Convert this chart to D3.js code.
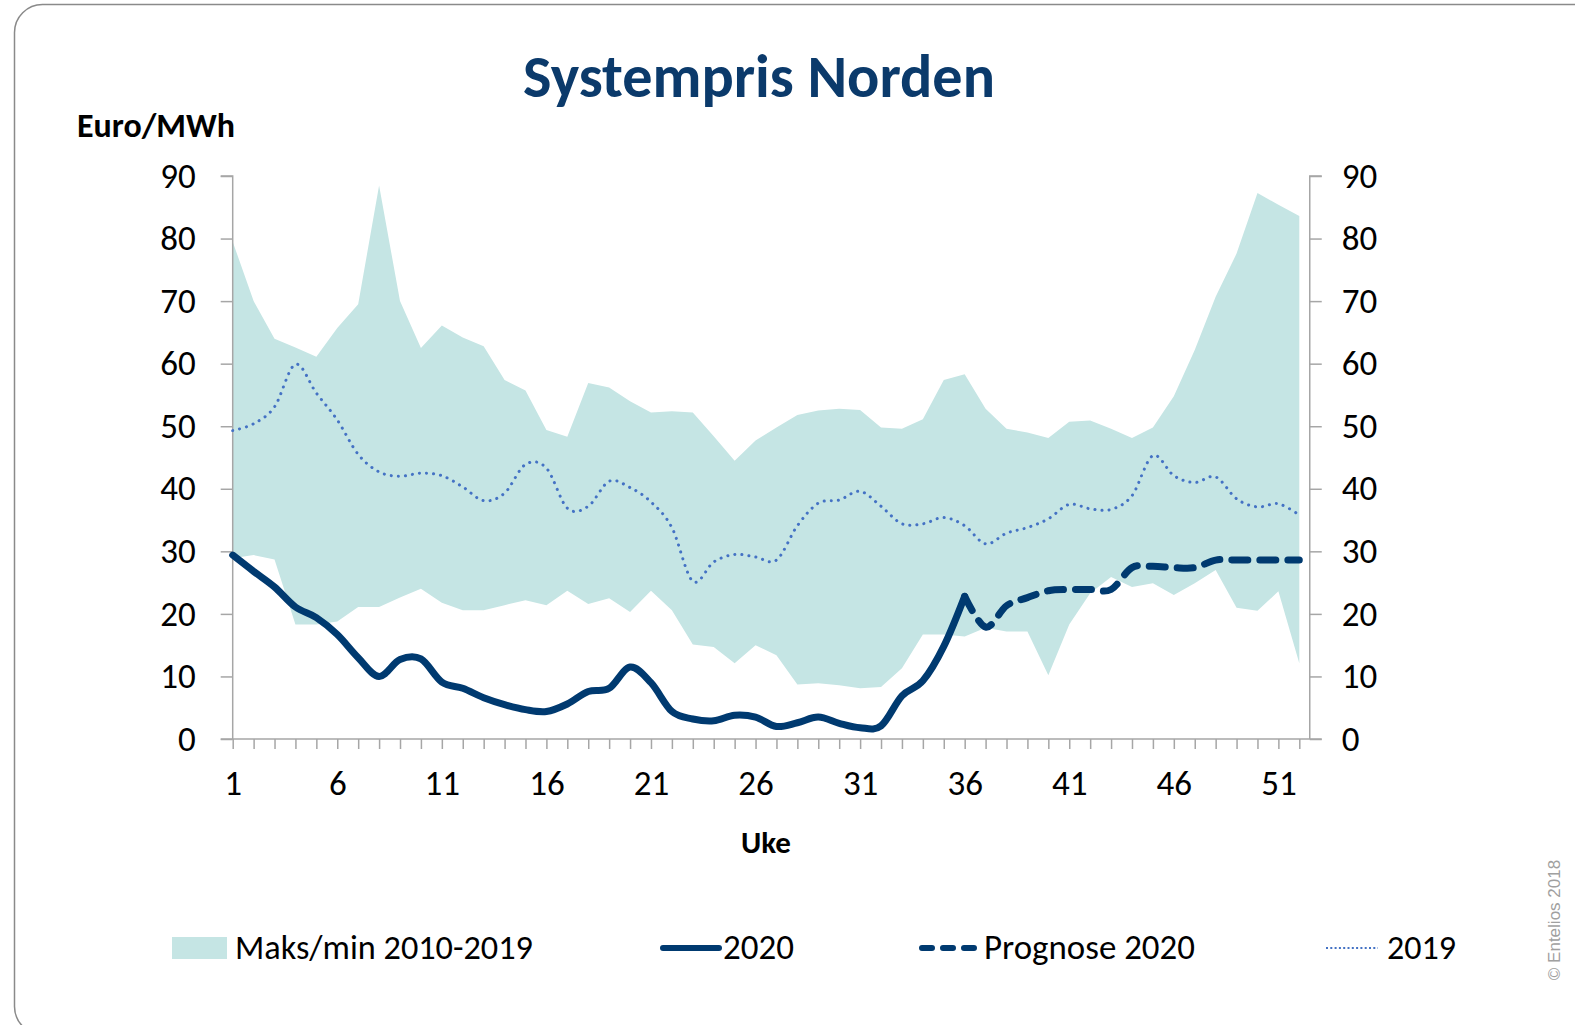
<!DOCTYPE html>
<html>
<head>
<meta charset="utf-8">
<script src="https://cdn.jsdelivr.net/npm/d3@7"></script>
<style>
  html, body { margin: 0; padding: 0; background: #fff; }
  svg { display: block; }
  text { font-family: Carlito, Lato, "Open Sans", sans-serif; }
</style>
</head>
<body>
<svg id="chart" width="1575" height="1025"></svg>
<script>
// ---- Data ----
const weeks = d3.range(1, 53);
const maxValues = [79.5,70.0,64.0,62.6,61.1,65.7,69.5,88.5,70.0,62.5,66.1,64.2,62.8,57.4,55.7,49.4,48.3,56.9,56.2,54.0,
  52.2,52.4,52.2,48.4,44.5,47.7,49.8,51.8,52.5,52.8,52.6,49.8,49.6,51.1,57.4,58.3,52.8,49.6,49.0,48.1,
  50.7,50.9,49.6,48.1,49.8,54.8,62.2,70.7,77.6,87.3,85.4,83.6];
const minValues = [28.9,29.4,28.7,18.3,18.3,18.8,21.1,21.1,22.6,24.0,21.8,20.6,20.6,21.4,22.2,21.4,23.7,21.6,22.5,20.3,
  23.7,20.6,15.1,14.7,12.1,15.0,13.4,8.7,8.9,8.6,8.1,8.3,11.3,16.7,16.7,16.4,17.8,17.2,17.2,10.2,
  18.3,23.3,25.9,24.3,24.9,23.0,24.9,27.0,21.0,20.5,23.6,12.1];
const values2019 = [49.3,50.4,53.1,59.9,55.3,51.0,45.5,42.7,42.0,42.5,42.1,40.3,38.1,39.3,43.9,43.3,36.9,37.2,41.2,40.2,
  37.9,33.8,25.2,28.3,29.5,29.1,28.6,34.1,37.7,38.2,39.6,37.2,34.4,34.4,35.4,34.1,31.2,32.9,33.8,35.2,
  37.5,36.8,36.7,38.9,45.3,42.1,41.0,41.9,38.4,37.1,37.6,35.8];
const weeks2020 = d3.range(1, 37);
const values2020 = [29.4,26.8,24.3,21.1,19.4,16.7,13.0,10.0,12.7,12.8,9.1,8.1,6.6,5.5,4.7,4.4,5.6,7.6,8.1,11.5,
  9.0,4.4,3.2,2.9,3.8,3.5,2.0,2.6,3.5,2.5,1.8,2.1,6.9,9.3,14.8,22.8];
const weeksPrognose = d3.range(36, 53);
const valuesPrognose = [22.8,17.9,21.3,22.6,23.7,23.9,23.9,23.9,27.4,27.6,27.4,27.4,28.6,28.6,28.6,28.6,28.6];
const yTicks = [0,10,20,30,40,50,60,70,80,90];
const xLabelWeeks = [1,6,11,16,21,26,31,36,41,46,51];
const legendLabels = ["Maks/min 2010-2019", "2020", "Prognose 2020", "2019"];
const titleText = "Systempris Norden";
const yAxisTitle = "Euro/MWh";
const xAxisTitle = "Uke";
const copyright = "© Entelios 2018";

// ---- Styles ----
const bandColor = "#C5E5E4";
const navy = "#003A70";
const dotBlue = "#4472C4";
const axisGray = "#A6A6A6";

const svg = d3.select("#chart");

// frame
svg.append("rect").attr("x", 14.5).attr("y", 4.5).attr("width", 1600).attr("height", 1030)
  .attr("rx", 28).attr("fill", "none").attr("stroke", "#8a8a8a").attr("stroke-width", 1.5);

const x = d3.scaleLinear().domain([1, 52]).range([232.7, 1299.3]);
const y = d3.scaleLinear().domain([0, 90]).range([739, 176]);

function fitWidth(sel, target) {
  const w = sel.node().getComputedTextLength();
  const fs = parseFloat(sel.attr("font-size"));
  sel.attr("font-size", fs * target / w);
}

// band
const area = d3.area().x((d, i) => x(weeks[i])).y0((d, i) => y(minValues[i])).y1(d => y(d));
svg.append("path").datum(maxValues).attr("d", area).attr("fill", bandColor);

// axes
const gLeft = svg.append("g").attr("transform", `translate(${x(1)},0)`)
  .call(d3.axisLeft(y).tickValues(yTicks).tickSize(12).tickPadding(25));
const gRight = svg.append("g").attr("transform", `translate(${x(52.5)},0)`)
  .call(d3.axisRight(y).tickValues(yTicks).tickSize(12).tickPadding(20));
const gBottom = svg.append("g").attr("transform", `translate(0,${y(0)})`)
  .call(d3.axisBottom(x).tickValues(weeks).tickSize(10).tickPadding(22)
    .tickFormat(d => xLabelWeeks.includes(d) ? d : ""));
[gLeft, gRight, gBottom].forEach(g => {
  g.select(".domain").attr("stroke", axisGray).attr("stroke-width", 1.5);
  g.selectAll(".tick line").attr("stroke", axisGray).attr("stroke-width", 1.5);
  g.selectAll(".tick text").attr("fill", "#000").attr("font-size", 35)
    .style("font-family", "Carlito, Lato, sans-serif");
});
gLeft.select(".domain").attr("d", `M-12,${y(90)}H0V${y(0)}`);
gRight.select(".domain").attr("d", `M12,${y(90)}H0V${y(0)}`);
gBottom.select(".domain").attr("d", `M${x(1) - 12},0H${x(52.5) + 12}`);
gBottom.selectAll(".tick text").attr("dy", "0.68em");

// 2019 dotted
svg.append("path").attr("d", d3.line().x((d, i) => x(weeks[i])).y(d => y(d)).curve(d3.curveCardinal.tension(0))(values2019))
  .attr("fill", "none").attr("stroke", dotBlue).attr("stroke-width", 3)
  .attr("stroke-dasharray", "0.1 7").attr("stroke-linecap", "round");

// prognose dashed
svg.append("path").attr("d", d3.line().x((d, i) => x(weeksPrognose[i])).y(d => y(d)).curve(d3.curveCardinal.tension(0))(valuesPrognose))
  .attr("fill", "none").attr("stroke", navy).attr("stroke-width", 7)
  .attr("stroke-dasharray", "16 12").attr("stroke-linecap", "round");

// 2020 solid
svg.append("path").attr("d", d3.line().x((d, i) => x(weeks2020[i])).y(d => y(d)).curve(d3.curveCardinal.tension(0))(values2020))
  .attr("fill", "none").attr("stroke", navy).attr("stroke-width", 7)
  .attr("stroke-linejoin", "round").attr("stroke-linecap", "round");

// titles
const t = svg.append("text").attr("x", 759).attr("y", 97).attr("text-anchor", "middle")
  .attr("font-size", 60).attr("font-weight", "bold").attr("fill", "#0B3A6B").text(titleText);
fitWidth(t, 472);
const ya = svg.append("text").attr("x", 77).attr("y", 137).attr("font-size", 30)
  .attr("font-weight", "bold").attr("fill", "#000").text(yAxisTitle);
fitWidth(ya, 158);
svg.append("text").attr("x", 766).attr("y", 853).attr("text-anchor", "middle").attr("font-size", 31)
  .attr("font-weight", "bold").attr("fill", "#000").text(xAxisTitle);

// legend
const ly = 948;
const leg = svg.append("g");
leg.append("rect").attr("x", 172).attr("y", ly - 11).attr("width", 55).attr("height", 22).attr("fill", bandColor);
leg.append("line").attr("x1", 663).attr("x2", 719).attr("y1", ly).attr("y2", ly)
  .attr("stroke", navy).attr("stroke-width", 6).attr("stroke-linecap", "round");
leg.append("line").attr("x1", 922).attr("x2", 980).attr("y1", ly).attr("y2", ly)
  .attr("stroke", navy).attr("stroke-width", 6).attr("stroke-linecap", "round").attr("stroke-dasharray", "10 11");
leg.append("line").attr("x1", 1326).attr("x2", 1378).attr("y1", ly).attr("y2", ly)
  .attr("stroke", dotBlue).attr("stroke-width", 2).attr("stroke-dasharray", "2 2.3");
const legX = [235, 723, 984, 1387];
const legW = [298, 71, 211, 69];
legendLabels.forEach((s, i) => {
  const tt = leg.append("text").attr("x", legX[i]).attr("y", ly + 11).attr("font-size", 30)
    .attr("fill", "#000").text(s);
  fitWidth(tt, legW[i]);
});

// copyright
svg.append("text").attr("transform", "translate(1560,920) rotate(-90)").attr("text-anchor", "middle")
  .attr("font-size", 17).attr("fill", "#A0A0A0").style("font-family", "'Liberation Sans', Arial, sans-serif")
  .text(copyright);
</script>
</body>
</html>
